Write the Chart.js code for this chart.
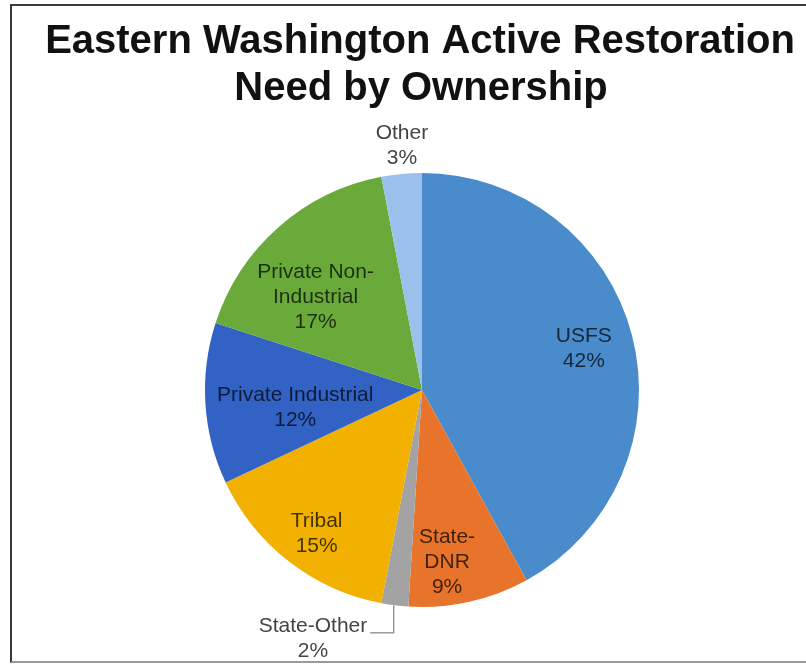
<!DOCTYPE html>
<html>
<head>
<meta charset="utf-8">
<script src="https://cdn.jsdelivr.net/npm/chart.js@4.4.1/dist/chart.umd.min.js"></script>
<style>
    html, body { margin: 0; padding: 0; background: #fff; overflow: hidden; }
    #wrap { position: relative; width: 806px; height: 664px; }
    #frame {
        position: absolute; left: 10px; top: 4px; width: 900px; height: 655px;
        border: 2px solid #3a3a3a; border-bottom-color: #9a9a9a; pointer-events: none;
    }
    canvas { position: absolute; left: 0; top: 0; }
</style>
</head>
<body>
<div id="wrap">
    <canvas id="pie" width="806" height="664"></canvas>
    <div id="frame"></div>
</div>
<script>
const titleLines = ["Eastern Washington Active Restoration", "Need by Ownership"]
const owners = ["USFS", "State-DNR", "State-Other", "Tribal", "Private Industrial", "Private Non-Industrial", "Other"]
const labelLines = [["USFS"], ["State-", "DNR"], ["State-Other"], ["Tribal"], ["Private Industrial"], ["Private Non-", "Industrial"], ["Other"]]
const shares = [42, 9, 2, 15, 12, 17, 3]
const colors = ["#4a8bcb", "#e8732a", "#a3a3a3", "#f2b000", "#3162c4", "#6aaa3a", "#9cc0ec"]

window.addEventListener("load", () => {
    const canvas = document.getElementById("pie")

    // where each label sits: fraction of the radius and an angle nudge (deg)
    const labelPlace = [
        { f: 0.77, d: 0 },
        { f: 0.80, d: 4.3 },
        { f: 1.25, d: 16.5, outside: true, leader: true },
        { f: 0.82, d: -1.5 },
        { f: 0.59, d: -4.4 },
        { f: 0.65, d: -7.6 },
        { f: 1.13, d: 0.7, outside: true }
    ]

    const titlePlugin = {
        id: "titleText",
        afterDraw(chart) {
            const { ctx } = chart
            ctx.save()
            ctx.fillStyle = "#111"
            ctx.textAlign = "center"
            ctx.textBaseline = "alphabetic"
            ctx.font = "bold 40px 'Liberation Sans', Arial, sans-serif"
            ctx.fillText(titleLines[0], 420, 53)
            ctx.fillText(titleLines[1], 421, 100)
            ctx.restore()
        }
    }

    const sliceLabels = {
        id: "sliceLabels",
        afterDatasetsDraw(chart) {
            const { ctx } = chart
            const arcs = chart.getDatasetMeta(0).data
            const total = shares.reduce((a, b) => a + b, 0)
            const lh = 25

            ctx.save()
            ctx.font = "21px 'Liberation Sans', Arial, sans-serif"
            ctx.textAlign = "center"
            ctx.textBaseline = "middle"

            arcs.forEach((arc, i) => {
                const p = labelPlace[i]
                const mid = (arc.startAngle + arc.endAngle) / 2 + p.d * Math.PI / 180
                const r = arc.outerRadius * p.f
                const cx = arc.x + Math.cos(mid) * r
                const cy = arc.y + Math.sin(mid) * r
                const lines = labelLines[i].concat([Math.round(shares[i] / total * 100) + "%"])
                const top = cy - (lines.length - 1) * lh / 2

                ctx.fillStyle = p.outside ? "#444" : "rgba(0,0,0,0.72)"
                lines.forEach((t, k) => ctx.fillText(t, cx, top + k * lh))

                if (p.leader) {
                    const w = ctx.measureText(lines[0]).width
                    const a = (arc.startAngle + arc.endAngle) / 2
                    const ex = arc.x + Math.cos(a) * arc.outerRadius
                    const ey = arc.y + Math.sin(a) * arc.outerRadius
                    const sx = cx + w / 2 + 3
                    ctx.strokeStyle = "#666"
                    ctx.lineWidth = 1
                    ctx.beginPath()
                    ctx.moveTo(sx, top + 7)
                    ctx.lineTo(ex - 1, top + 7)
                    ctx.lineTo(ex - 1, ey)
                    ctx.stroke()
                }
            })
            ctx.restore()
        }
    }

    new Chart(canvas, {
        type: "pie",
        data: {
            labels: owners,
            datasets: [{
                data: shares,
                backgroundColor: colors,
                borderWidth: 0
            }]
        },
        options: {
            responsive: false,
            animation: false,
            events: [],
            layout: {
                padding: { top: 173, bottom: 57, left: 205, right: 167 }
            },
            plugins: {
                legend: { display: false },
                tooltip: { enabled: false },
                title: { display: false }
            }
        },
        plugins: [sliceLabels, titlePlugin]
    })
})
</script>
</body>
</html>
